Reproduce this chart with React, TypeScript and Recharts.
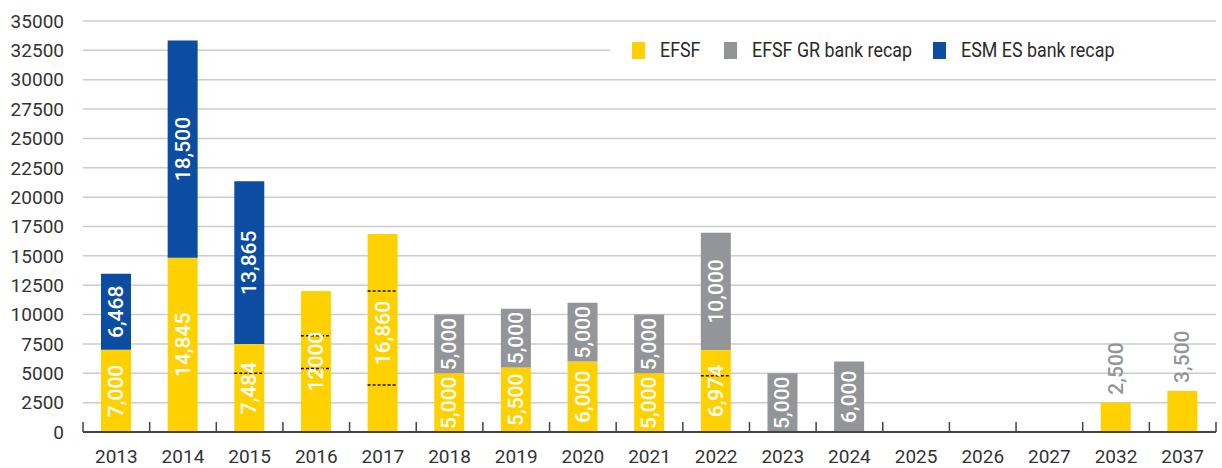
import * as React from "react"
import { BarChart, Bar, XAxis, YAxis, CartesianGrid, Legend, LabelList } from "recharts"

const years = ["2013", "2014", "2015", "2016", "2017", "2018", "2019", "2020", "2021", "2022", "2023", "2024", "2025", "2026", "2027", "2032", "2037"]
const efsf = [7000, 14845, 7484, 12000, 16860, 5000, 5500, 6000, 5000, 6974, 0, 0, 0, 0, 0, 2500, 3500]
const efsfLabels = ["7,000", "14,845", "7,484", "12000", "16,860", "5,000", "5,500", "6,000", "5,000", "6,974", "", "", "", "", "", "2,500", "3,500"]
const grRecap = [0, 0, 0, 0, 0, 5000, 5000, 5000, 5000, 10000, 5000, 6000, 0, 0, 0, 0, 0]
const esRecap = [6468, 18500, 13865, 0, 0, 0, 0, 0, 0, 0, 0, 0, 0, 0, 0, 0, 0]
// dotted split marks inside the EFSF bars
const efsfSplits: number[][] = [[], [], [5000], [5400, 8200], [4000, 12000], [], [], [], [], [4800], [], [], [], [], [], [], []]
const yTicks = [0, 2500, 5000, 7500, 10000, 12500, 15000, 17500, 20000, 22500, 25000, 27500, 30000, 32500, 35000]

const YELLOW = "#FFD100"
const GREY = "#939598"
const BLUE = "#0C4DA2"
const FONT = "Roboto, 'DejaVu Sans', sans-serif"

const data = years.map((year, i) => ({
    year,
    efsf: efsf[i],
    efsfLabel: efsfLabels[i],
    gr: grRecap[i],
    es: esRecap[i],
    splits: efsfSplits[i],
}))

const fmt = (v: number) => v.toLocaleString("en-US")

const renderLabel = (useRaw: boolean) => (props: any) => {
    const { x, y, width, height, value } = props
    if (!value || !height) return null
    const text = useRaw ? String(value) : fmt(Number(value))
    const cx = x + width / 2
    const textLen = text.length * 10.5
    if (height < textLen + 4) {
        const ty = y - 8
        return (
            <text
                x={cx}
                y={ty}
                transform={`rotate(-90 ${cx} ${ty})`}
                textAnchor="start"
                dominantBaseline="central"
                fill={GREY}
                fontSize={21}
                fontWeight={500}
                fontFamily={FONT}
            >
                {text}
            </text>
        )
    }
    const cy = y + height / 2
    return (
        <text
            x={cx}
            y={cy}
            transform={`rotate(-90 ${cx} ${cy})`}
            textAnchor="middle"
            dominantBaseline="central"
            fill="#ffffff"
            fontSize={21}
            fontWeight={500}
            fontFamily={FONT}
        >
            {text}
        </text>
    )
}

const EfsfBar = (props: any) => {
    const { x, y, width, height, fill, payload } = props
    if (!height) return null
    const total = payload.efsf
    return (
        <g>
            <rect x={x} y={y} width={width} height={height} fill={fill} />
            {payload.splits.map((s: number, i: number) => {
                const sy = y + height - (s / total) * height
                return (
                    <line
                        key={`split-${i}`}
                        x1={x}
                        x2={x + width}
                        y1={sy}
                        y2={sy}
                        stroke="#111"
                        strokeWidth={1.5}
                        strokeDasharray="3 2"
                    />
                )
            })}
        </g>
    )
}

const XTick = (props: any) => {
    const { x, y, payload, index, visibleTicksCount } = props
    const half = payload.offset || 1133 / 17 / 2
    return (
        <g>
            <line x1={x - half} x2={x - half} y1={y - 10} y2={y} stroke="#444" strokeWidth={1.5} />
            {index === visibleTicksCount - 1 && (
                <line x1={x + half} x2={x + half} y1={y - 10} y2={y} stroke="#444" strokeWidth={1.5} />
            )}
            <text x={x} y={y + 31} textAnchor="middle" fill="#333" fontSize={19} fontFamily={FONT}>
                {payload.value}
            </text>
        </g>
    )
}

const legendLefts = [22, 114, 323]

const renderLegend = ({ payload }: any) => {
    if (!payload || !payload.length) return null
    return (
        <div style={{ position: "relative", width: 606, height: 54, background: "#fff" }}>
            {payload.map((entry: any, index: number) => (
                <div
                    key={`legend-${index}`}
                    style={{
                        position: "absolute",
                        left: legendLefts[index],
                        top: 0,
                        height: 54,
                        display: "flex",
                        alignItems: "center",
                        gap: 15,
                        whiteSpace: "nowrap",
                    }}
                >
                    <div style={{ width: 13, height: 17, background: entry.color }} />
                    <span
                        style={{
                            display: "inline-block",
                            fontFamily: FONT,
                            fontSize: 21,
                            color: "#2a2a2a",
                            transform: "scaleX(0.85)",
                            transformOrigin: "left center",
                        }}
                    >
                        {entry.value}
                    </span>
                </div>
            ))}
        </div>
    )
}

export default function App() {
    return (
        <div style={{ position: "absolute", left: 0, top: 0, background: "#fff" }}>
            <BarChart width={1222} height={468} data={data} margin={{ top: 21, right: 6, bottom: 0, left: 0 }} barSize={30}>
                <CartesianGrid vertical={false} stroke="#cccccc" strokeWidth={1.5} />
                <XAxis
                    dataKey="year"
                    height={36}
                    tickSize={0}
                    tickMargin={0}
                    tickLine={false}
                    axisLine={{ stroke: "#444", strokeWidth: 2 }}
                    tick={<XTick />}
                    interval={0}
                />
                <YAxis
                    width={83}
                    domain={[0, 35000]}
                    ticks={yTicks}
                    tickLine={false}
                    axisLine={false}
                    tickSize={0}
                    tickMargin={19}
                    tick={{ fill: "#333", fontSize: 19, fontFamily: FONT }}
                />
                <Legend
                    layout="horizontal"
                    verticalAlign="middle"
                    align="center"
                    content={renderLegend}
                    wrapperStyle={{ left: 610, top: 23, width: 606, height: 54 }}
                />
                <Bar dataKey="efsf" name="EFSF" stackId="a" fill={YELLOW} shape={<EfsfBar />} isAnimationActive={false}>
                    <LabelList dataKey="efsfLabel" content={renderLabel(true)} />
                </Bar>
                <Bar dataKey="gr" name="EFSF GR bank recap" stackId="a" fill={GREY} isAnimationActive={false}>
                    <LabelList dataKey="gr" content={renderLabel(false)} />
                </Bar>
                <Bar dataKey="es" name="ESM ES bank recap" stackId="a" fill={BLUE} isAnimationActive={false}>
                    <LabelList dataKey="es" content={renderLabel(false)} />
                </Bar>
            </BarChart>
        </div>
    )
}
